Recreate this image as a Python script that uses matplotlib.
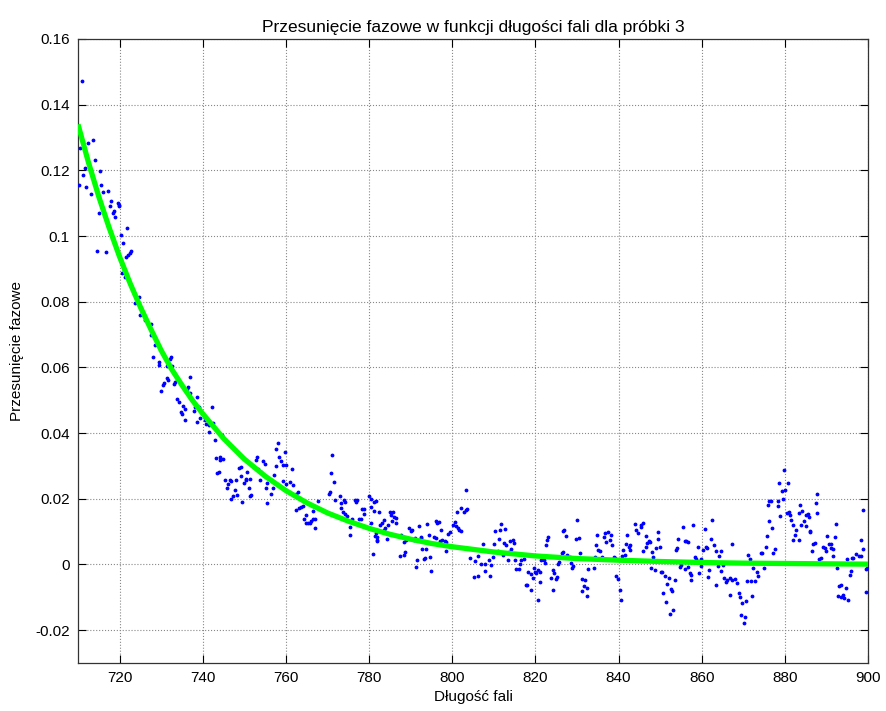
import numpy as np
import matplotlib
matplotlib.use("Agg")
import matplotlib.pyplot as plt
from matplotlib.ticker import FuncFormatter

# ==================== DATA ====================
# measured points (wavelength nm, phase shift), read off the reference, split by region
seg_710_726 = [
    (710.9, 0.1472), (713.6, 0.1293), (712.4, 0.1283), (710.4, 0.1268), (711.6, 0.1207),
    (714.0, 0.1232), (715.2, 0.1198), (711.2, 0.1186), (710.2, 0.1154), (712.0, 0.1148),
    (713.2, 0.1127), (715.6, 0.1156), (716.0, 0.1135), (717.1, 0.1138), (718.0, 0.1108),
    (717.8, 0.1090), (719.5, 0.1100), (719.9, 0.1095), (719.8, 0.1090), (718.7, 0.1075),
    (718.4, 0.1070), (715.0, 0.1070), (719.0, 0.1058), (721.9, 0.1026), (720.3, 0.1002),
    (720.8, 0.0978), (714.6, 0.0953), (716.8, 0.0951), (722.8, 0.0955), (722.4, 0.0948),
    (722.0, 0.0943), (721.6, 0.0936), (720.6, 0.0887), (721.2, 0.0875), (724.6, 0.0813),
    (723.6, 0.0796), (725.0, 0.0760), (726.0, 0.0745),
]
seg_727_756 = [
    (727.5, 0.0733), (727.6, 0.0700), (728.4, 0.0669), (728.0, 0.0633), (729.4, 0.0618),
    (729.5, 0.0606), (731.3, 0.0603), (732.3, 0.0632), (732.1, 0.0626), (732.7, 0.0603),
    (731.4, 0.0568), (731.6, 0.0563), (730.6, 0.0554), (730.4, 0.0547), (733.3, 0.0556),
    (733.1, 0.0550), (729.9, 0.0529), (736.9, 0.0570), (736.5, 0.0540), (736.3, 0.0534),
    (737.0, 0.0522), (733.7, 0.0505), (734.2, 0.0495), (735.3, 0.0484), (735.8, 0.0474),
    (738.6, 0.0510), (738.1, 0.0481), (737.9, 0.0466), (739.1, 0.0481), (734.7, 0.0463),
    (734.9, 0.0459), (735.7, 0.0439), (738.5, 0.0434), (739.4, 0.0446), (740.6, 0.0439),
    (740.9, 0.0428), (741.5, 0.0426), (742.5, 0.0431), (742.3, 0.0481), (741.4, 0.0402),
    (742.9, 0.0378), (744.7, 0.0395), (743.3, 0.0324), (744.2, 0.0327), (744.9, 0.0322),
    (744.1, 0.0317), (743.5, 0.0279), (743.9, 0.0281), (745.4, 0.0258), (746.5, 0.0258),
    (746.1, 0.0246), (745.9, 0.0233), (746.7, 0.0253), (747.3, 0.0208), (746.9, 0.0198),
    (748.2, 0.0213), (747.7, 0.0226), (747.9, 0.0258), (749.1, 0.0297), (748.7, 0.0294),
    (749.3, 0.0268), (750.3, 0.0261), (750.5, 0.0258), (749.9, 0.0248), (751.1, 0.0233),
    (751.3, 0.0260), (749.5, 0.0189), (751.3, 0.0208), (751.5, 0.0213), (750.7, 0.0281),
    (752.7, 0.0317), (753.0, 0.0327), (753.3, 0.0292), (753.7, 0.0258), (754.5, 0.0314),
    (754.9, 0.0307), (754.1, 0.0282), (755.1, 0.0233), (755.5, 0.0248), (755.5, 0.0187),
]
seg_756_782 = [
    (758.1, 0.0370), (757.5, 0.0352), (759.7, 0.0342), (758.3, 0.0327), (758.8, 0.0314),
    (759.2, 0.0304), (760.0, 0.0304), (757.5, 0.0301), (761.5, 0.0291), (757.1, 0.0271),
    (759.2, 0.0253), (760.1, 0.0246), (760.9, 0.0250), (761.7, 0.0243), (756.8, 0.0233),
    (756.5, 0.0216), (771.2, 0.0334), (770.9, 0.0279), (771.6, 0.0250), (770.5, 0.0220),
    (770.3, 0.0216), (762.5, 0.0216), (762.9, 0.0220), (771.9, 0.0196), (772.9, 0.0210),
    (774.0, 0.0196), (773.3, 0.0187), (774.1, 0.0189), (767.7, 0.0192), (762.5, 0.0165),
    (763.2, 0.0172), (763.7, 0.0175), (764.1, 0.0179), (764.9, 0.0150), (764.4, 0.0137),
    (764.8, 0.0125), (765.3, 0.0125), (765.7, 0.0127), (766.0, 0.0132), (766.5, 0.0137),
    (766.9, 0.0139), (767.1, 0.0111), (766.4, 0.0163), (773.3, 0.0172), (773.7, 0.0159),
    (774.3, 0.0155), (774.8, 0.0147), (776.5, 0.0196), (777.2, 0.0196), (776.9, 0.0189),
    (775.9, 0.0137), (775.5, 0.0115), (775.3, 0.0089), (777.5, 0.0139), (778.0, 0.0139),
    (778.3, 0.0169), (778.7, 0.0169), (778.9, 0.0155), (779.9, 0.0208), (780.4, 0.0198),
    (781.2, 0.0189), (780.5, 0.0175), (781.2, 0.0162), (781.7, 0.0096), (781.9, 0.0071),
    (781.7, 0.0192),
]
seg_780_806 = [
    (780.9, 0.0033), (780.4, 0.0127), (781.4, 0.0086), (781.8, 0.0076), (782.0, 0.0084),
    (782.4, 0.0159), (782.7, 0.0121), (783.2, 0.0127), (783.5, 0.0135), (783.6, 0.0106),
    (783.9, 0.0111), (784.3, 0.0079), (785.0, 0.0159), (785.2, 0.0152), (785.8, 0.0159),
    (786.0, 0.0144), (786.4, 0.0142), (786.6, 0.0127), (785.4, 0.0132), (784.6, 0.0121),
    (787.8, 0.0091), (788.3, 0.0068), (788.8, 0.0073), (788.7, 0.0037), (787.5, 0.0027),
    (788.4, 0.0030), (789.6, 0.0111), (790.2, 0.0101), (790.4, 0.0106), (790.7, 0.0074),
    (791.0, 0.0081), (791.5, 0.0015), (791.4, -0.0007), (792.0, 0.0116), (792.4, 0.0081),
    (792.6, 0.0083), (792.8, 0.0047), (793.1, 0.0017), (793.5, 0.0020), (793.8, 0.0047),
    (794.0, 0.0124), (794.4, 0.0091), (794.6, 0.0022), (795.0, -0.0021), (795.5, 0.0084),
    (796.0, 0.0081), (796.0, 0.0132), (796.4, 0.0127), (796.8, 0.0129), (797.4, 0.0104),
    (797.0, 0.0071), (797.6, 0.0076), (798.2, 0.0071), (798.6, 0.0068), (798.6, 0.0040),
    (799.0, 0.0094), (799.4, 0.0098), (800.2, 0.0121), (800.6, 0.0129), (800.8, 0.0116),
    (801.4, 0.0111), (801.6, 0.0106), (802.0, 0.0101), (801.1, 0.0159), (802.2, 0.0172),
    (802.8, 0.0159), (803.2, 0.0167), (803.6, 0.0169), (803.2, 0.0228), (804.2, 0.0020),
    (805.2, -0.0038), (805.4, 0.0010), (806.2, 0.0025), (806.2, -0.0036),
]
seg_807_833 = [
    (807.3, 0.0061), (807.8, -0.0019), (807.0, 0.0002), (807.8, 0.0000), (808.6, 0.0040),
    (808.8, 0.0013), (809.4, -0.0002), (809.2, -0.0034), (809.7, 0.0023), (810.0, 0.0061),
    (810.2, 0.0101), (811.4, 0.0104), (811.8, 0.0124), (812.8, 0.0109), (811.3, 0.0078),
    (810.9, 0.0042), (812.4, 0.0066), (813.0, 0.0058), (814.0, 0.0071), (814.5, 0.0074),
    (814.9, 0.0066), (814.2, 0.0047), (812.2, 0.0030), (813.4, 0.0015), (813.7, 0.0037),
    (815.0, 0.0013), (815.4, -0.0013), (816.1, -0.0015), (816.6, 0.0013), (816.4, 0.0002),
    (817.3, 0.0017), (817.7, -0.0064), (818.0, -0.0061), (818.2, -0.0022), (818.9, -0.0029),
    (819.4, -0.0041), (819.0, -0.0078), (819.7, -0.0010), (820.0, -0.0024), (820.2, -0.0026),
    (820.6, -0.0018), (821.2, -0.0024), (820.6, -0.0109), (821.0, -0.0053), (821.4, 0.0013),
    (822.0, 0.0013), (822.2, 0.0005), (822.5, 0.0058), (822.8, 0.0074), (823.0, 0.0084),
    (823.7, -0.0041), (824.2, -0.0018), (824.6, -0.0026), (824.9, -0.0044), (825.2, -0.0038),
    (824.2, -0.0079), (825.4, 0.0002), (825.8, 0.0007), (826.3, 0.0035), (826.6, 0.0037),
    (826.6, 0.0101), (827.0, 0.0106), (827.3, 0.0088), (827.5, 0.0030), (828.3, 0.0023),
    (828.5, 0.0005), (828.9, -0.0010), (829.0, -0.0005), (829.7, 0.0078), (830.0, 0.0135),
    (830.5, 0.0081), (830.7, 0.0035), (831.1, -0.0044), (831.9, -0.0046), (831.6, -0.0067),
    (832.3, -0.0072), (831.2, -0.0082), (832.5, -0.0097), (832.6, -0.0013),
]
seg_834_859 = [
    (834.0, -0.0010), (834.3, 0.0023), (834.7, 0.0058), (834.8, 0.0091), (835.1, 0.0045),
    (835.5, 0.0040), (836.1, 0.0023), (836.4, 0.0084), (836.9, 0.0068), (836.7, 0.0096),
    (837.5, 0.0100), (837.9, 0.0074), (838.4, 0.0059), (838.3, 0.0091), (838.8, 0.0023),
    (839.2, 0.0020), (839.5, -0.0034), (839.9, -0.0044), (840.3, -0.0078), (840.6, -0.0109),
    (840.9, 0.0027), (841.1, 0.0043), (841.6, 0.0030), (841.9, 0.0061), (842.4, 0.0054),
    (842.8, 0.0045), (842.7, 0.0058), (842.0, 0.0091), (843.1, 0.0015), (843.9, 0.0124),
    (844.3, 0.0104), (844.8, 0.0096), (845.3, 0.0114), (845.5, 0.0121), (845.9, 0.0127),
    (845.9, 0.0042), (846.5, 0.0053), (846.5, 0.0086), (846.9, 0.0064), (847.3, 0.0071),
    (847.5, 0.0068), (848.0, 0.0037), (848.3, 0.0023), (847.7, -0.0010), (848.7, -0.0018),
    (849.1, 0.0051), (849.5, 0.0100), (849.4, 0.0078), (849.9, 0.0054), (850.1, -0.0024),
    (850.5, -0.0024), (851.1, -0.0034), (850.7, -0.0087), (851.7, -0.0059), (852.1, -0.0041),
    (851.3, -0.0114), (852.3, -0.0152), (853.2, -0.0139), (852.5, -0.0074), (852.9, -0.0081),
    (853.5, -0.0048), (853.9, 0.0045), (854.1, 0.0051), (854.3, 0.0078), (854.7, -0.0007),
    (855.1, -0.0002), (855.9, -0.0015), (856.3, 0.0071), (856.0, 0.0071), (856.6, 0.0068),
    (855.5, 0.0114), (856.7, -0.0007), (857.1, -0.0026), (857.5, -0.0031), (857.5, -0.0048),
    (857.9, 0.0119), (858.3, 0.0023), (858.7, 0.0017), (859.1, 0.0052), (859.3, -0.0026),
]
seg_860_881 = [
    (859.9, -0.0005), (859.8, 0.0018), (860.2, 0.0043), (860.7, 0.0109), (861.0, 0.0054),
    (861.3, 0.0051), (861.8, -0.0018), (861.5, -0.0039), (862.3, 0.0078), (862.6, 0.0134),
    (862.9, 0.0058), (863.4, 0.0042), (863.5, -0.0063), (863.9, -0.0005), (864.1, 0.0027),
    (864.6, 0.0040), (864.7, -0.0021), (865.1, -0.0003), (865.3, -0.0041), (865.8, -0.0053),
    (866.2, -0.0048), (866.7, -0.0094), (866.9, -0.0041), (867.3, -0.0046), (867.4, 0.0061),
    (867.9, -0.0043), (868.5, -0.0056), (869.0, -0.0086), (869.1, -0.0100), (869.8, -0.0117),
    (870.6, -0.0110), (869.5, -0.0154), (870.5, -0.0159), (870.1, -0.0178), (871.1, 0.0028),
    (871.5, 0.0017), (871.0, -0.0049), (871.8, -0.0049), (872.2, -0.0097), (872.3, -0.0012),
    (872.9, -0.0049), (873.4, -0.0024), (873.5, -0.0034), (874.2, 0.0036), (874.6, 0.0036),
    (874.9, -0.0010), (875.4, 0.0054), (875.7, 0.0088), (876.2, 0.0132), (876.8, 0.0111),
    (877.2, 0.0036), (877.7, 0.0047), (876.0, 0.0182), (876.2, 0.0192), (876.6, 0.0194),
    (878.4, 0.0192), (878.4, 0.0179), (878.8, 0.0149), (878.6, 0.0248), (879.2, 0.0225),
    (880.0, 0.0228), (879.8, 0.0287), (879.6, 0.0200), (880.4, 0.0156), (880.8, 0.0248),
    (881.0, 0.0159),
]
seg_881_900 = [
    (881.2, 0.0152), (881.6, 0.0134), (882.0, 0.0121), (882.6, 0.0104), (882.0, 0.0076),
    (882.5, 0.0090), (883.3, 0.0076), (883.3, 0.0157), (883.7, 0.0180), (884.2, 0.0162),
    (884.0, 0.0121), (884.5, 0.0131), (885.0, 0.0152), (885.2, 0.0116), (885.6, 0.0154),
    (885.7, 0.0145), (886.1, 0.0101), (886.0, 0.0098), (886.6, 0.0040), (886.8, 0.0061),
    (887.2, 0.0066), (887.8, 0.0216), (887.6, 0.0186), (887.8, 0.0157), (888.2, 0.0017),
    (888.8, 0.0020), (889.2, 0.0054), (889.6, 0.0049), (890.0, 0.0040), (890.6, 0.0063),
    (891.0, 0.0063), (891.2, 0.0051), (891.7, 0.0047), (891.6, 0.0027), (890.2, 0.0088),
    (892.0, 0.0084), (892.4, 0.0124), (892.6, -0.0010), (893.1, -0.0067), (893.5, -0.0061),
    (892.7, -0.0095), (893.5, -0.0099), (894.1, -0.0092), (894.6, -0.0071), (894.3, -0.0102),
    (895.1, -0.0109), (895.0, 0.0017), (895.6, -0.0031), (896.0, -0.0021), (896.2, 0.0020),
    (896.5, 0.0020), (897.0, 0.0033), (897.8, 0.0027), (898.2, 0.0027), (898.4, 0.0074),
    (898.8, 0.0165), (898.9, 0.0048), (899.4, -0.0013), (899.8, -0.0010), (899.4, -0.0085),
]

# fitted curve
fit_wl = [710, 712.5, 715, 717.5, 720, 722.5, 725, 727.5, 730, 732.5, 735, 737.5, 740,
          745, 750, 755, 760, 765, 770, 775, 780, 785, 790, 795, 800, 810, 820, 830,
          840, 850, 860, 870, 880, 890, 900]
fit_shift = [0.1340, 0.1225, 0.1120, 0.1025, 0.0937, 0.0857, 0.0784, 0.0717, 0.0652,
             0.0595, 0.0546, 0.0500, 0.0459, 0.0384, 0.0321, 0.0269, 0.0225, 0.0188,
             0.0157, 0.0132, 0.0110, 0.0092, 0.0077, 0.0064, 0.0054, 0.0038, 0.0026,
             0.0018, 0.0013, 0.0009, 0.0006, 0.0004, 0.0003, 0.0002, 0.0001]

x_ticks = [720, 740, 760, 780, 800, 820, 840, 860, 880, 900]
y_ticks = [-0.02, 0.0, 0.02, 0.04, 0.06, 0.08, 0.1, 0.12, 0.14, 0.16]

# ==================== PLOT ====================
plt.rcParams['font.family'] = ['Liberation Sans', 'DejaVu Sans']

points = np.array(seg_710_726 + seg_727_756 + seg_756_782 + seg_780_806 +
                  seg_807_833 + seg_834_859 + seg_860_881 + seg_881_900)

fig = plt.figure(figsize=(8.86, 7.11), dpi=100)
ax = fig.add_axes([78 / 886, 48 / 711, 790 / 886, 624 / 711])

ax.plot(points[:, 0], points[:, 1], linestyle="none", marker=".",
        markersize=3.5, color="#0000ff", zorder=3)
ax.plot(fit_wl, fit_shift, color="#00ff00", linewidth=3.8,
        solid_capstyle="butt", zorder=4)

ax.set_xlim(710, 900)
ax.set_ylim(-0.03, 0.16)
ax.set_xticks(x_ticks)
ax.set_yticks(y_ticks)
ax.yaxis.set_major_formatter(FuncFormatter(lambda v, p: "%g" % round(v, 4)))

ax.grid(True, linestyle=":", color="#888888", linewidth=0.8)
ax.set_axisbelow(True)
ax.tick_params(direction="in", length=5.5, width=0.8, top=True, right=True,
               labelsize=11, colors="black", pad=6)
for s in ax.spines.values():
    s.set_linewidth(0.9)
    s.set_color("#333333")

ax.set_title("Przesunięcie fazowe w funkcji długości fali dla próbki 3", fontsize=12.5, pad=5)
ax.set_xlabel("Długość fali", fontsize=11, labelpad=3)
ax.set_ylabel("Przesunięcie fazowe", fontsize=11, labelpad=8)

fig.savefig("out.png", dpi=100)
